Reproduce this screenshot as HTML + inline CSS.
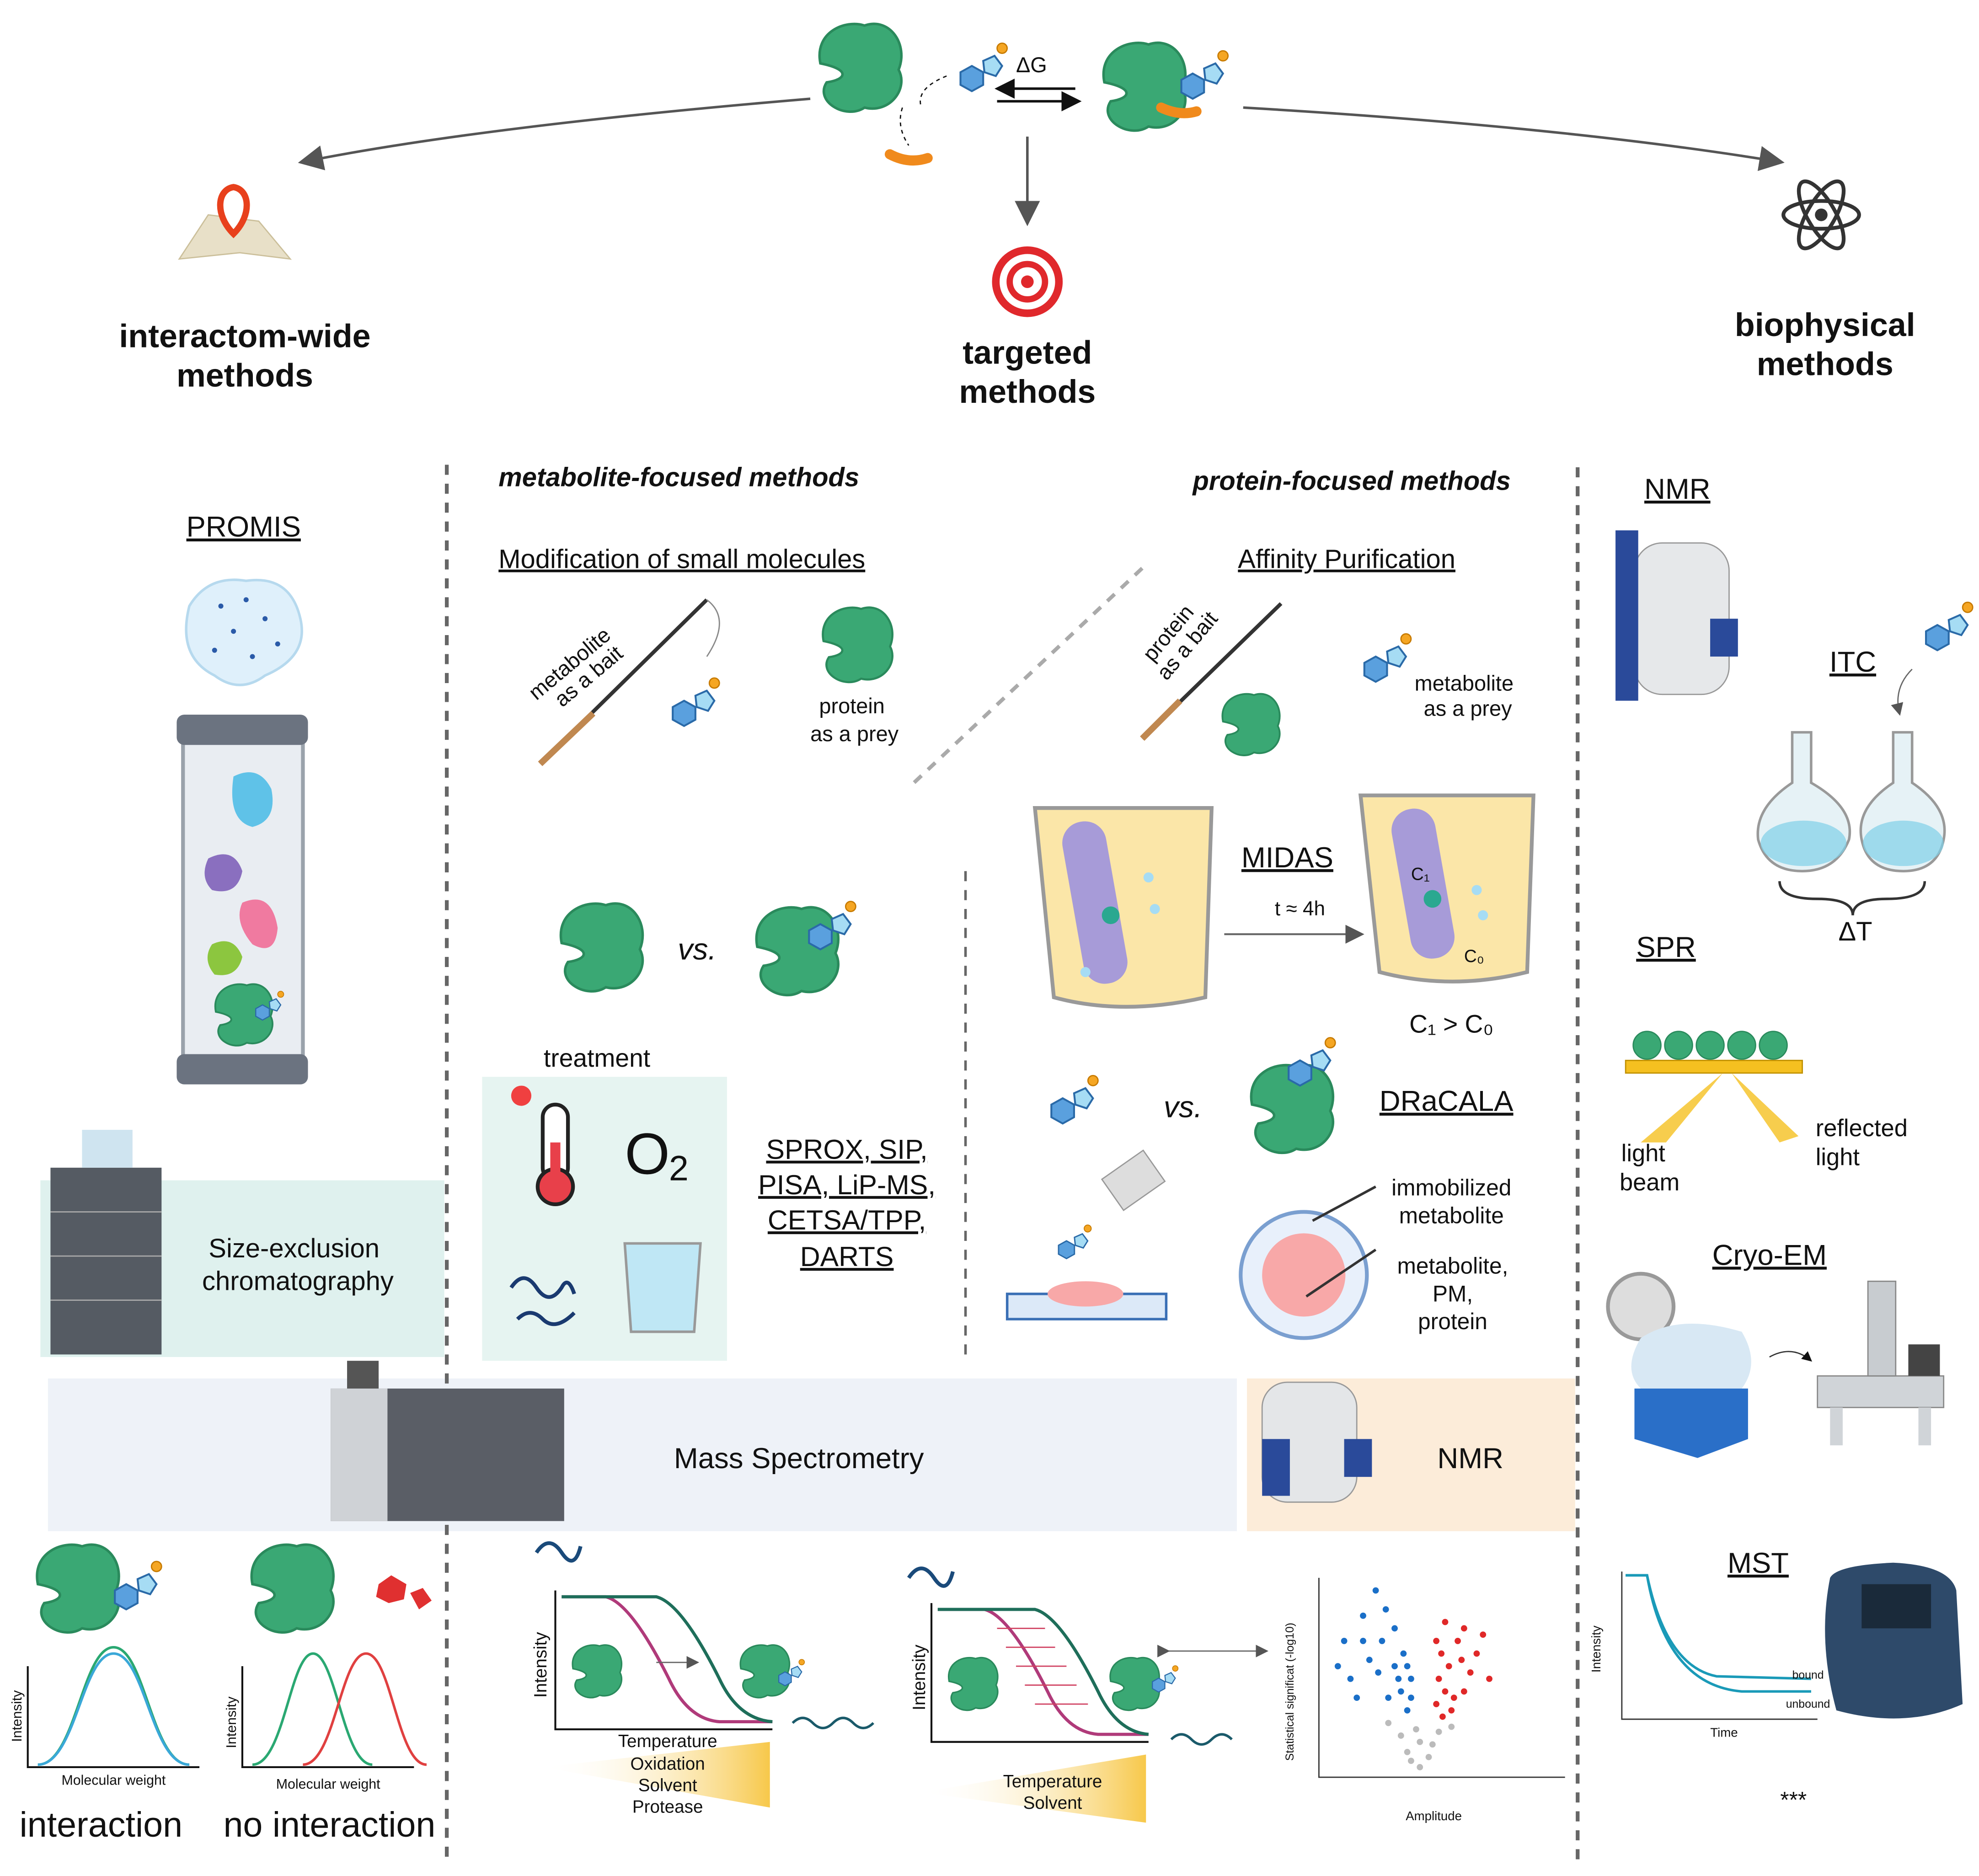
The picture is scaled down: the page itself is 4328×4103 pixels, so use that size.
<!DOCTYPE html>
<html><head><meta charset="utf-8"><style>
html,body{margin:0;padding:0;background:#fff}
svg{display:block}
text{font-family:"Liberation Sans",sans-serif;fill:#111}
.b{font-weight:bold}
.u{text-decoration:underline}
</style></head><body>
<svg width="4328" height="4103" viewBox="0 0 1568 1486" xmlns="http://www.w3.org/2000/svg">
<defs>
<marker id="ah" markerWidth="10" markerHeight="10" refX="8" refY="5" orient="auto"><path d="M0,0 L10,5 L0,10 z" fill="#555"/></marker>
<marker id="ak" markerWidth="8" markerHeight="8" refX="7" refY="4" orient="auto"><path d="M0,0 L8,4 L0,8 z" fill="#111"/></marker>
<linearGradient id="yg" x1="0" x2="1"><stop offset="0" stop-color="#fff" stop-opacity="0"/><stop offset="1" stop-color="#f7c84a"/></linearGradient>
<g id="prot"><path d="M-30,-5 C-35,-30 -10,-40 5,-35 C25,-42 40,-20 32,0 C40,15 25,35 5,30 C-10,40 -35,25 -25,10 C-10,8 -5,0 -30,-5z" fill="#3aa874" stroke="#2a8a5c" stroke-width="2"/></g>
<g id="mol"><polygon points="0,-10 9,-5 9,5 0,10 -9,5 -9,-5" fill="#5aa0de" stroke="#2a6aa8" stroke-width="1.5"/><polygon points="9,-14 18,-18 24,-10 19,-2 10,-5" fill="#a6dcf4" stroke="#2a6aa8" stroke-width="1.5"/><circle cx="24" cy="-24" r="4" fill="#f5a623" stroke="#c77a00"/></g>
</defs>
<rect width="1568" height="1486" fill="#fff"/>

<rect x="32" y="935" width="320" height="140" fill="#dff1ee"/>
<rect x="382" y="853" width="194" height="225" fill="#e6f4f1"/>
<rect x="38" y="1092" width="942" height="121" fill="#eef2f8"/>
<rect x="988" y="1092" width="260" height="121" fill="#fcecd9"/>

<g stroke="#666" stroke-width="3" stroke-dasharray="8,7">
<line x1="354" y1="368" x2="354" y2="1475"/>
<line x1="1250" y1="370" x2="1250" y2="1475"/>
<line x1="765" y1="690" x2="765" y2="1075" stroke-width="2"/>
<line x1="905" y1="450" x2="722" y2="622" stroke="#aaa"/>
</g>

<use href="#prot" x="680" y="55"/>
<use href="#prot" x="905" y="70"/>
<use href="#mol" x="770" y="62"/>
<use href="#mol" x="945" y="68"/>
<path d="M750,60 Q725,70 730,85" stroke="#111" stroke-dasharray="3,3" fill="none"/>
<path d="M715,85 Q710,100 720,115" stroke="#111" stroke-dasharray="3,3" fill="none"/>
<path d="M705,122 Q720,130 735,125" stroke="#f08a1c" stroke-width="8" fill="none" stroke-linecap="round"/>
<path d="M920,85 Q935,92 948,88" stroke="#f08a1c" stroke-width="8" fill="none" stroke-linecap="round"/>
<text x="805" y="57" font-size="17">ΔG</text>
<line x1="852" y1="70" x2="790" y2="70" stroke="#111" stroke-width="2" marker-end="url(#ak)"/>
<line x1="790" y1="80" x2="855" y2="80" stroke="#111" stroke-width="2" marker-end="url(#ak)"/>
<line x1="814" y1="108" x2="814" y2="175" stroke="#555" stroke-width="2" marker-end="url(#ah)"/>
<path d="M642,78 Q380,100 240,128" stroke="#555" stroke-width="2" fill="none" marker-end="url(#ah)"/>
<path d="M985,85 Q1240,100 1410,128" stroke="#555" stroke-width="2" fill="none" marker-end="url(#ah)"/>
<circle cx="814" cy="223" r="25" fill="none" stroke="#e0282c" stroke-width="6"/><circle cx="814" cy="223" r="14" fill="none" stroke="#e0282c" stroke-width="5"/><circle cx="814" cy="223" r="5" fill="#e0282c"/>
<path d="M142,205 L165,170 L205,175 L230,205 L190,200 Z" fill="#e8e0c8" stroke="#cbbf9a"/>
<path d="M185,185 C170,170 172,150 185,148 C198,150 200,170 185,185z" fill="#fff" stroke="#e8401c" stroke-width="5"/>
<g fill="none" stroke="#333" stroke-width="3"><ellipse cx="1443" cy="170" rx="30" ry="11"/><ellipse cx="1443" cy="170" rx="30" ry="11" transform="rotate(60 1443 170)"/><ellipse cx="1443" cy="170" rx="30" ry="11" transform="rotate(-60 1443 170)"/></g><circle cx="1443" cy="170" r="5" fill="#333"/>
<text x="194" y="275" font-size="26" class="b" text-anchor="middle">interactom-wide</text>
<text x="194" y="306" font-size="26" class="b" text-anchor="middle">methods</text>
<text x="814" y="288" font-size="26" class="b" text-anchor="middle">targeted</text>
<text x="814" y="319" font-size="26" class="b" text-anchor="middle">methods</text>
<text x="1446" y="266" font-size="26" class="b" text-anchor="middle">biophysical</text>
<text x="1446" y="297" font-size="26" class="b" text-anchor="middle">methods</text>

<text x="193" y="425" font-size="23" class="u" text-anchor="middle">PROMIS</text>
<path d="M150,480 Q165,455 195,460 Q230,455 238,490 Q245,520 210,535 Q190,550 170,535 Q140,520 150,480z" fill="#dff0fb" stroke="#b6d9ee" stroke-width="2"/>
<g fill="#2a5aa8"><circle cx="175" cy="480" r="2"/><circle cx="195" cy="475" r="2"/><circle cx="210" cy="490" r="2"/><circle cx="185" cy="500" r="2"/><circle cx="220" cy="510" r="2"/><circle cx="170" cy="515" r="2"/><circle cx="200" cy="520" r="2"/></g>
<rect x="145" y="580" width="95" height="265" fill="#e9edf2" stroke="#9aa2ab" stroke-width="3"/>
<rect x="140" y="566" width="104" height="24" rx="6" fill="#6b7380"/>
<rect x="140" y="835" width="104" height="24" rx="6" fill="#6b7380"/>
<path d="M185,615 Q205,605 215,625 Q220,650 200,655 Q180,650 185,615z" fill="#5fc2e8"/>
<path d="M165,680 Q185,670 192,690 Q188,710 168,705 Q158,695 165,680z" fill="#8a6fbf"/>
<path d="M192,715 Q215,705 220,735 Q218,758 200,748 Q185,730 192,715z" fill="#f07aa0"/>
<path d="M168,748 Q185,740 192,758 Q188,775 170,772 Q160,760 168,748z" fill="#8cc63f"/>
<use href="#prot" transform="translate(192,805) scale(.7)"/>
<use href="#mol" transform="translate(208,802) scale(.6)"/>
<rect x="40" y="925" width="88" height="148" fill="#555b63"/>
<g stroke="#aaa"><line x1="40" y1="960" x2="128" y2="960"/><line x1="40" y1="995" x2="128" y2="995"/><line x1="40" y1="1030" x2="128" y2="1030"/></g>
<rect x="65" y="895" width="40" height="30" fill="#cfe4f0"/>
<text x="233" y="996" font-size="21" text-anchor="middle">Size-exclusion</text>
<text x="236" y="1022" font-size="21" text-anchor="middle">chromatography</text>

<text x="395" y="385" font-size="21" class="b" font-style="italic">metabolite-focused methods</text>
<text x="395" y="450" font-size="21" class="u">Modification of small molecules</text>
<text x="455" y="530" font-size="17" transform="rotate(-40 455 530)" text-anchor="middle">metabolite</text>
<text x="470" y="540" font-size="17" transform="rotate(-40 470 540)" text-anchor="middle">as a bait</text>
<line x1="428" y1="605" x2="560" y2="475" stroke="#333" stroke-width="3"/>
<line x1="428" y1="605" x2="470" y2="565" stroke="#c08850" stroke-width="5"/>
<path d="M560,475 Q580,490 560,520" stroke="#888" fill="none"/>
<use href="#mol" x="542" y="565"/>
<use href="#prot" transform="translate(678,512) scale(.85)"/>
<text x="675" y="565" font-size="17" text-anchor="middle">protein</text>
<text x="677" y="587" font-size="17" text-anchor="middle">as a prey</text>
<use href="#prot" x="475" y="752"/>
<text x="537" y="760" font-size="24" font-style="italic">vs.</text>
<use href="#prot" x="630" y="755"/>
<use href="#mol" x="650" y="742"/>
<text x="473" y="845" font-size="20" text-anchor="middle">treatment</text>
<rect x="430" y="875" width="20" height="60" rx="10" fill="#fff" stroke="#222" stroke-width="3"/><circle cx="440" cy="940" r="14" fill="#e8404a" stroke="#222" stroke-width="3"/><rect x="436" y="905" width="8" height="35" fill="#e8404a"/>
<circle cx="413" cy="868" r="8" fill="#f04040"/>
<text x="495" y="930" font-size="46">O</text><text x="530" y="935" font-size="28">2</text>
<path d="M495,985 L555,985 L550,1055 L500,1055 Z" fill="#bfe7f5" stroke="#999" stroke-width="2"/>
<path d="M405,1020 q10,-15 20,0 q10,15 20,0 q5,-10 10,5" stroke="#1a3a70" stroke-width="3" fill="none"/>
<path d="M410,1045 q10,-10 20,0 q10,10 25,-5" stroke="#1a3a70" stroke-width="3" fill="none"/>
<text x="671" y="918" font-size="22" class="u" text-anchor="middle">SPROX, SIP,</text>
<text x="671" y="946" font-size="22" class="u" text-anchor="middle">PISA, LiP-MS,</text>
<text x="671" y="974" font-size="22" class="u" text-anchor="middle">CETSA/TPP,</text>
<text x="671" y="1003" font-size="22" class="u" text-anchor="middle">DARTS</text>

<text x="945" y="388" font-size="21" class="b" font-style="italic">protein-focused methods</text>
<text x="1067" y="450" font-size="21" class="u" text-anchor="middle">Affinity Purification</text>
<text x="930" y="505" font-size="17" transform="rotate(-50 930 505)" text-anchor="middle">protein</text>
<text x="945" y="515" font-size="17" transform="rotate(-50 945 515)" text-anchor="middle">as a bait</text>
<line x1="905" y1="585" x2="1015" y2="478" stroke="#333" stroke-width="3"/>
<line x1="905" y1="585" x2="935" y2="555" stroke="#c08850" stroke-width="5"/>
<use href="#prot" transform="translate(990,575) scale(.7)"/>
<use href="#mol" x="1090" y="530"/>
<text x="1160" y="547" font-size="17" text-anchor="middle">metabolite</text>
<text x="1163" y="567" font-size="17" text-anchor="middle">as a prey</text>
<path d="M820,640 L960,640 L955,790 Q890,805 835,790 Z" fill="#fbe6a8" stroke="#999" stroke-width="3"/>
<rect x="850" y="650" width="35" height="130" rx="17" fill="#a79bd8" transform="rotate(-10 867 715)"/>
<g fill="#2aa890"><circle cx="880" cy="725" r="7"/><circle cx="860" cy="770" r="4" fill="#a6dcf4"/><circle cx="910" cy="695" r="4" fill="#a6dcf4"/><circle cx="915" cy="720" r="4" fill="#a6dcf4"/></g>
<path d="M1078,630 L1215,630 L1210,770 Q1150,785 1093,770 Z" fill="#fbe6a8" stroke="#999" stroke-width="3"/>
<rect x="1110" y="640" width="35" height="120" rx="17" fill="#a79bd8" transform="rotate(-10 1127 700)"/>
<g fill="#2aa890"><circle cx="1135" cy="712" r="7"/><circle cx="1170" cy="705" r="4" fill="#a6dcf4"/><circle cx="1175" cy="725" r="4" fill="#a6dcf4"/></g>
<text x="1020" y="687" font-size="23" class="u" text-anchor="middle">MIDAS</text>
<text x="1030" y="725" font-size="16" text-anchor="middle">t ≈ 4h</text>
<line x1="970" y1="740" x2="1078" y2="740" stroke="#666" stroke-width="1.5" marker-end="url(#ah)"/>
<text x="1118" y="697" font-size="14">C₁</text><text x="1160" y="762" font-size="14">C₀</text>
<text x="1150" y="818" font-size="20" text-anchor="middle">C₁ &gt; C₀</text>
<use href="#mol" x="842" y="880"/>
<text x="922" y="885" font-size="24" font-style="italic">vs.</text>
<use href="#prot" x="1022" y="880"/>
<use href="#mol" x="1030" y="850"/>
<text x="1146" y="880" font-size="23" class="u" text-anchor="middle">DRaCALA</text>
<rect x="798" y="1025" width="126" height="20" fill="#dce9f8" stroke="#3a6fb5" stroke-width="2"/>
<ellipse cx="860" cy="1025" rx="30" ry="10" fill="#f8a8a8"/>
<rect x="878" y="920" width="40" height="30" fill="#ddd" stroke="#999" transform="rotate(-35 898 935)"/>
<use href="#mol" transform="translate(845,990) scale(.7)"/>
<circle cx="1033" cy="1010" r="50" fill="#e8f0fb" stroke="#7a9fd0" stroke-width="3"/>
<circle cx="1033" cy="1010" r="33" fill="#f8a8a8"/>
<line x1="1040" y1="967" x2="1090" y2="940" stroke="#333" stroke-width="2"/>
<line x1="1035" y1="1027" x2="1090" y2="990" stroke="#333" stroke-width="2"/>
<text x="1150" y="947" font-size="18" text-anchor="middle">immobilized</text>
<text x="1150" y="969" font-size="18" text-anchor="middle">metabolite</text>
<text x="1151" y="1009" font-size="18" text-anchor="middle">metabolite,</text>
<text x="1151" y="1031" font-size="18" text-anchor="middle">PM,</text>
<text x="1151" y="1053" font-size="18" text-anchor="middle">protein</text>

<rect x="262" y="1100" width="185" height="105" fill="#5a5e66"/>
<rect x="262" y="1100" width="45" height="105" fill="#cfd2d6"/>
<rect x="275" y="1078" width="25" height="22" fill="#555"/>
<text x="633" y="1163" font-size="23" text-anchor="middle">Mass Spectrometry</text>
<rect x="1000" y="1095" width="75" height="95" rx="20" fill="#e4e6e8" stroke="#999"/>
<rect x="1000" y="1140" width="22" height="45" fill="#2a4a9a"/><rect x="1065" y="1140" width="22" height="30" fill="#2a4a9a"/>
<text x="1165" y="1163" font-size="23" text-anchor="middle">NMR</text>

<use href="#prot" x="60" y="1260"/><use href="#mol" x="100" y="1265"/>
<use href="#prot" x="230" y="1260"/>
<polygon points="300,1255 310,1248 322,1255 320,1267 308,1270 298,1265" fill="#e03030"/><polygon points="325,1262 335,1258 342,1268 332,1275" fill="#e03030"/>
<g stroke="#111" stroke-width="1.5" fill="none">
<polyline points="22,1320 22,1400 158,1400"/>
<polyline points="192,1320 192,1400 328,1400"/></g>
<path d="M30,1398 C60,1398 65,1305 90,1305 C115,1305 120,1398 150,1398" stroke="#2aa872" stroke-width="2" fill="none"/>
<path d="M30,1398 C60,1398 65,1310 90,1310 C115,1310 120,1398 150,1398" stroke="#3aa8d8" stroke-width="2" fill="none"/>
<path d="M200,1398 C225,1398 230,1310 248,1310 C266,1310 272,1398 295,1398" stroke="#2aa872" stroke-width="2" fill="none"/>
<path d="M240,1398 C265,1398 270,1310 290,1310 C310,1310 315,1398 338,1398" stroke="#e04040" stroke-width="2" fill="none"/>
<text x="90" y="1414" font-size="11" text-anchor="middle">Molecular weight</text>
<text x="260" y="1417" font-size="11" text-anchor="middle">Molecular weight</text>
<text x="17" y="1380" font-size="11" transform="rotate(-90 17 1380)">Intensity</text>
<text x="187" y="1385" font-size="11" transform="rotate(-90 187 1385)">Intensity</text>
<text x="80" y="1455" font-size="28" text-anchor="middle">interaction</text>
<text x="261" y="1455" font-size="28" text-anchor="middle">no interaction</text>

<polyline points="440,1260 440,1370 612,1370" stroke="#111" stroke-width="1.5" fill="none"/>
<path d="M445,1265 L480,1265 Q500,1270 530,1330 Q545,1362 570,1364 L612,1364" stroke="#b03a7a" stroke-width="2.5" fill="none"/>
<path d="M445,1265 L520,1265 Q540,1270 570,1330 Q585,1362 612,1364" stroke="#1e6e5a" stroke-width="2.5" fill="none"/>
<line x1="520" y1="1317" x2="552" y2="1317" stroke="#666" marker-end="url(#ah)"/>
<use href="#prot" transform="translate(472,1325) scale(.6)"/><use href="#prot" transform="translate(605,1325) scale(.6)"/>
<use href="#mol" transform="translate(622,1330) scale(.55)"/>
<text x="433" y="1345" font-size="14" transform="rotate(-90 433 1345)">Intensity</text>
<text x="529" y="1384" font-size="14" text-anchor="middle">Temperature</text>
<polygon points="430,1400 610,1380 610,1432" fill="url(#yg)"/>
<text x="529" y="1402" font-size="14" text-anchor="middle">Oxidation</text>
<text x="529" y="1419" font-size="14" text-anchor="middle">Solvent</text>
<text x="529" y="1436" font-size="14" text-anchor="middle">Protease</text>
<path d="M628,1365 q8,-8 16,0 q8,8 16,0 q8,-8 16,0 q8,8 16,0" stroke="#1a5a6a" stroke-width="2" fill="none"/>
<path d="M425,1230 q10,-15 20,0 q10,15 15,-5" stroke="#1a4a7a" stroke-width="3" fill="none"/>
<path d="M720,1250 q10,-15 20,0 q10,15 15,-5" stroke="#1a4a7a" stroke-width="3" fill="none"/>

<polyline points="738,1270 738,1380 910,1380" stroke="#111" stroke-width="1.5" fill="none"/>
<path d="M743,1275 L780,1275 Q800,1280 830,1340 Q845,1372 870,1374 L910,1374" stroke="#b03a7a" stroke-width="2.5" fill="none"/>
<path d="M743,1275 L820,1275 Q840,1280 870,1340 Q885,1372 910,1374" stroke="#1e6e5a" stroke-width="2.5" fill="none"/>
<g stroke="#d04060" stroke-width="1"><line x1="790" y1="1290" x2="828" y2="1290"/><line x1="797" y1="1305" x2="836" y2="1305"/><line x1="805" y1="1320" x2="845" y2="1320"/><line x1="812" y1="1335" x2="853" y2="1335"/><line x1="820" y1="1350" x2="862" y2="1350"/></g>
<use href="#prot" transform="translate(770,1335) scale(.6)"/><use href="#prot" transform="translate(898,1335) scale(.6)"/>
<use href="#mol" transform="translate(918,1335) scale(.55)"/>
<text x="733" y="1355" font-size="14" transform="rotate(-90 733 1355)">Intensity</text>
<polygon points="730,1420 908,1390 908,1444" fill="url(#yg)"/>
<text x="834" y="1416" font-size="14" text-anchor="middle">Temperature</text>
<text x="834" y="1433" font-size="14" text-anchor="middle">Solvent</text>
<path d="M928,1378 q8,-8 16,0 q8,8 16,0 q8,-8 16,0" stroke="#1a5a6a" stroke-width="2" fill="none"/>
<line x1="925" y1="1308" x2="1003" y2="1308" stroke="#666" marker-end="url(#ah)" marker-start="url(#ah)"/>
<polyline points="1045,1250 1045,1408 1240,1408" stroke="#333" stroke-width="1" fill="none"/>
<g fill="#1a6fc8"><circle cx="1080" cy="1280" r="2.5"/><circle cx="1095" cy="1300" r="2.5"/><circle cx="1105" cy="1320" r="2.5"/><circle cx="1110" cy="1340" r="2.5"/><circle cx="1070" cy="1330" r="2.5"/><circle cx="1090" cy="1260" r="2.5"/><circle cx="1115" cy="1355" r="2.5"/><circle cx="1100" cy="1345" r="2.5"/><circle cx="1085" cy="1315" r="2.5"/><circle cx="1065" cy="1300" r="2.5"/><circle cx="1105" cy="1290" r="2.5"/><circle cx="1112" cy="1310" r="2.5"/><circle cx="1118" cy="1330" r="2.5"/><circle cx="1108" cy="1330" r="2.5"/><circle cx="1075" cy="1345" r="2.5"/><circle cx="1098" cy="1275" r="2.5"/><circle cx="1118" cy="1345" r="2.5"/><circle cx="1092" cy="1325" r="2.5"/><circle cx="1060" cy="1320" r="2.5"/><circle cx="1080" cy="1300" r="2.5"/><circle cx="1115" cy="1320" r="2.5"/></g>
<g fill="#e02828"><circle cx="1145" cy="1285" r="2.5"/><circle cx="1155" cy="1300" r="2.5"/><circle cx="1140" cy="1330" r="2.5"/><circle cx="1160" cy="1340" r="2.5"/><circle cx="1170" cy="1310" r="2.5"/><circle cx="1150" cy="1355" r="2.5"/><circle cx="1175" cy="1295" r="2.5"/><circle cx="1138" cy="1350" r="2.5"/><circle cx="1165" cy="1325" r="2.5"/><circle cx="1142" cy="1310" r="2.5"/><circle cx="1148" cy="1320" r="2.5"/><circle cx="1158" cy="1315" r="2.5"/><circle cx="1145" cy="1340" r="2.5"/><circle cx="1138" cy="1300" r="2.5"/><circle cx="1160" cy="1290" r="2.5"/><circle cx="1180" cy="1330" r="2.5"/><circle cx="1152" cy="1345" r="2.5"/><circle cx="1143" cy="1360" r="2.5"/></g>
<g fill="#bbb"><circle cx="1125" cy="1380" r="2.5"/><circle cx="1118" cy="1395" r="2.5"/><circle cx="1132" cy="1392" r="2.5"/><circle cx="1110" cy="1375" r="2.5"/><circle cx="1140" cy="1372" r="2.5"/><circle cx="1125" cy="1400" r="2.5"/><circle cx="1122" cy="1370" r="2.5"/><circle cx="1135" cy="1382" r="2.5"/><circle cx="1115" cy="1388" r="2.5"/><circle cx="1100" cy="1365" r="2.5"/><circle cx="1150" cy="1368" r="2.5"/></g>
<text x="1136" y="1442" font-size="10" text-anchor="middle">Amplitude</text>
<text x="1025" y="1395" font-size="9" transform="rotate(-90 1025 1395)">Statistical significat (-log10)</text>

<text x="1329" y="395" font-size="23" class="u" text-anchor="middle">NMR</text>
<rect x="1295" y="430" width="75" height="120" rx="22" fill="#e6e8ea" stroke="#999"/>
<rect x="1280" y="420" width="18" height="135" fill="#2a4a9a"/>
<rect x="1355" y="490" width="22" height="30" fill="#2a4a9a"/>
<text x="1468" y="532" font-size="23" class="u" text-anchor="middle">ITC</text>
<use href="#mol" x="1535" y="505"/>
<path d="M1515,530 Q1500,545 1505,565" stroke="#666" fill="none" marker-end="url(#ah)"/>
<g fill="#e6f2f6" stroke="#999" stroke-width="2"><path d="M1420,580 L1435,580 L1435,620 Q1470,640 1465,665 Q1455,690 1428,690 Q1400,690 1393,665 Q1390,640 1420,620z"/><path d="M1500,580 L1515,580 L1515,620 Q1545,640 1540,665 Q1535,690 1508,690 Q1480,690 1475,665 Q1470,640 1500,620z"/></g>
<ellipse cx="1429" cy="668" rx="34" ry="18" fill="#7fd0e8" opacity=".7"/><ellipse cx="1508" cy="668" rx="32" ry="18" fill="#7fd0e8" opacity=".7"/>
<path d="M1410,698 Q1410,712 1440,712 Q1468,712 1468,725 Q1468,712 1495,712 Q1525,712 1525,698" stroke="#333" stroke-width="2" fill="none"/>
<text x="1470" y="745" font-size="21" text-anchor="middle">ΔT</text>
<text x="1320" y="758" font-size="23" class="u" text-anchor="middle">SPR</text>
<rect x="1288" y="840" width="140" height="10" fill="#f5c020" stroke="#c09000"/>
<g fill="#3aa874" stroke="#2a8a5c"><circle cx="1305" cy="828" r="11"/><circle cx="1330" cy="828" r="11"/><circle cx="1355" cy="828" r="11"/><circle cx="1380" cy="828" r="11"/><circle cx="1405" cy="828" r="11"/></g>
<polygon points="1300,905 1365,850 1320,905" fill="#f5c020" opacity=".8"/>
<polygon points="1372,850 1425,900 1410,905" fill="#f5c020" opacity=".8"/>
<text x="1302" y="920" font-size="19" text-anchor="middle">light</text>
<text x="1307" y="943" font-size="19" text-anchor="middle">beam</text>
<text x="1475" y="900" font-size="19" text-anchor="middle">reflected</text>
<text x="1456" y="923" font-size="19" text-anchor="middle">light</text>
<text x="1402" y="1002" font-size="23" class="u" text-anchor="middle">Cryo-EM</text>
<circle cx="1300" cy="1035" r="26" fill="#ddd" stroke="#999" stroke-width="3"/>
<path d="M1300,1060 Q1330,1040 1380,1055 Q1395,1080 1380,1100 L1300,1100 Q1285,1085 1300,1060z" fill="#d8e8f4"/>
<path d="M1295,1100 L1385,1100 L1385,1140 L1345,1155 L1295,1140z" fill="#2a6fc8"/>
<path d="M1402,1075 Q1420,1065 1435,1078" stroke="#333" fill="none" marker-end="url(#ak)"/>
<rect x="1440" y="1090" width="100" height="25" fill="#d0d4d8" stroke="#888"/>
<rect x="1480" y="1015" width="22" height="75" fill="#c8ccd0" stroke="#888"/>
<rect x="1512" y="1065" width="25" height="25" fill="#444"/>
<rect x="1450" y="1115" width="10" height="30" fill="#d0d4d8"/><rect x="1520" y="1115" width="10" height="30" fill="#d0d4d8"/>
<text x="1393" y="1246" font-size="23" class="u" text-anchor="middle">MST</text>
<polyline points="1285,1245 1285,1362 1440,1362" stroke="#333" fill="none"/>
<path d="M1288,1248 L1305,1248 Q1320,1320 1360,1328 L1435,1330" stroke="#1a9ab8" stroke-width="2" fill="none"/>
<path d="M1288,1248 L1305,1248 Q1320,1335 1380,1340 L1435,1340" stroke="#1a9ab8" stroke-width="2" fill="none"/>
<text x="1420" y="1330" font-size="9" fill="#1a7ab8">bound</text>
<text x="1415" y="1353" font-size="9" fill="#1a7ab8">unbound</text>
<text x="1366" y="1376" font-size="10" text-anchor="middle">Time</text>
<text x="1268" y="1325" font-size="10" transform="rotate(-90 1268 1325)">Intensity</text>
<path d="M1450,1250 Q1455,1240 1500,1238 Q1545,1240 1550,1260 L1555,1350 Q1510,1370 1455,1355 Q1440,1300 1450,1250z" fill="#2e4a6a"/>
<rect x="1475" y="1255" width="55" height="35" fill="#1a2a3a"/>
<text x="1421" y="1432" font-size="18" text-anchor="middle">***</text>
</svg>
</body></html>
